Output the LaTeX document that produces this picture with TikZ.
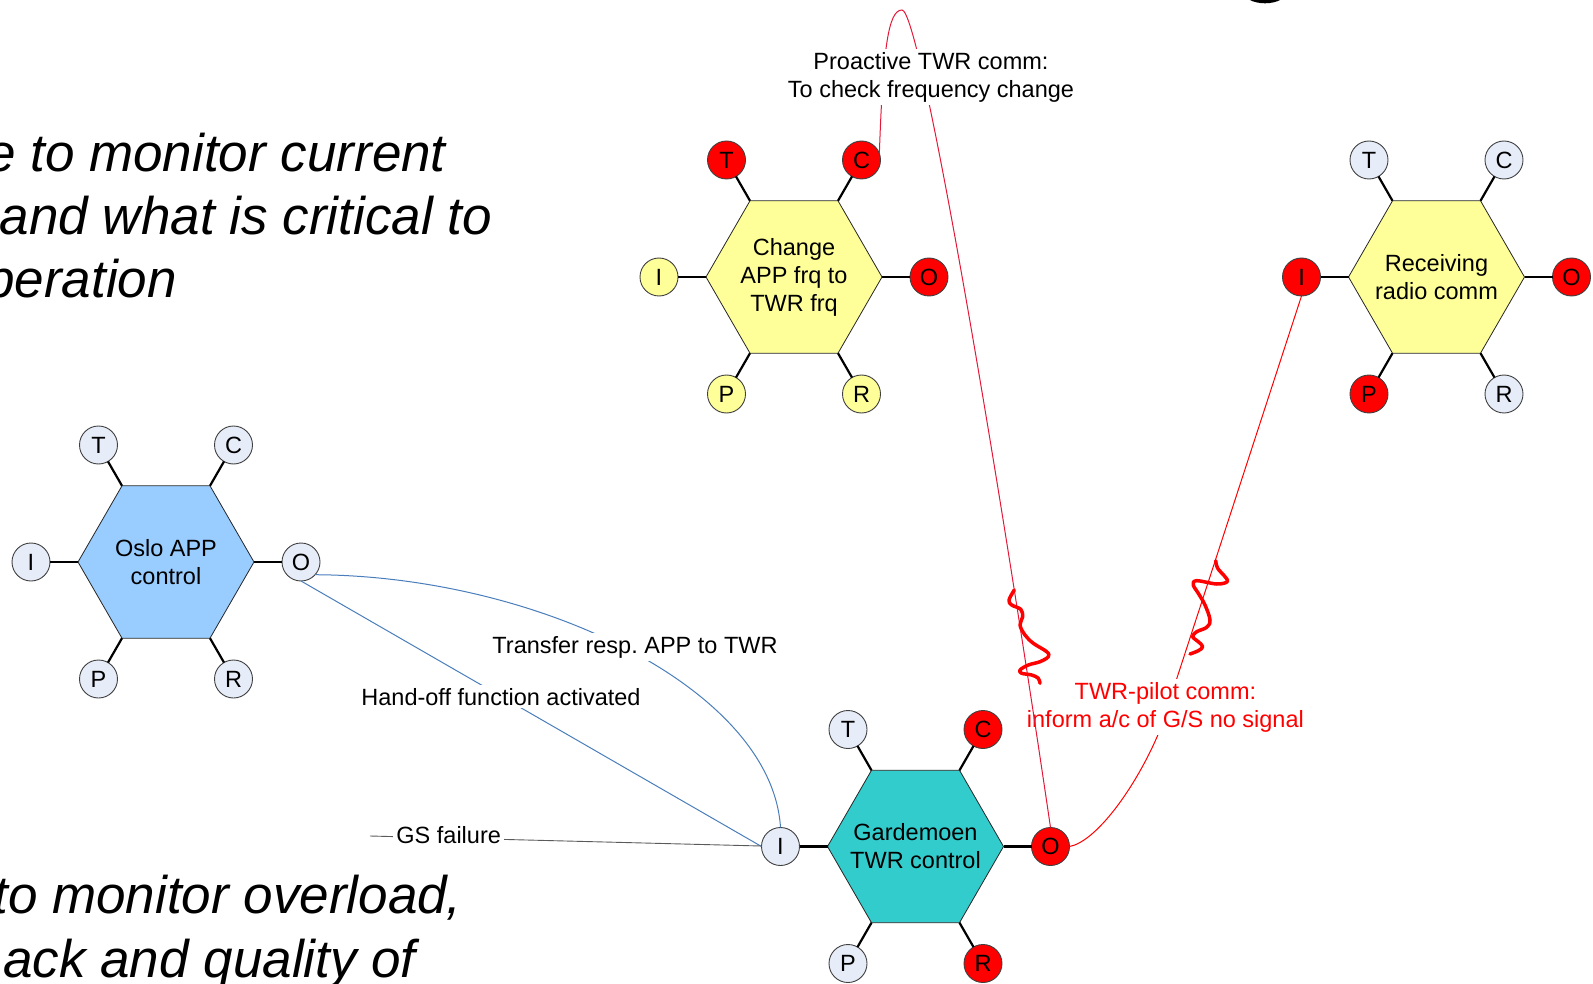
\documentclass[tikz,border=0pt]{standalone}
\usepackage{fontspec}
\setmainfont{Liberation Sans}
\usetikzlibrary{shapes.geometric,calc}

\definecolor{satfill}{RGB}{230,236,248}
\definecolor{hotred}{RGB}{255,0,0}
\definecolor{paleyellow}{RGB}{255,255,153}
\definecolor{appblue}{RGB}{153,204,255}
\definecolor{twrteal}{RGB}{51,204,204}
\definecolor{linkblue}{RGB}{74,126,187}
\definecolor{crimsonline}{RGB}{228,24,56}
\definecolor{gsgrey}{RGB}{90,90,90}

\begin{document}
\frenchspacing
\begin{tikzpicture}[x=1pt,y=-1pt,
  hexbox/.style={regular polygon, regular polygon sides=6, minimum size=176pt,
    inner sep=0pt, outer sep=0pt, draw=black!85, line width=0.8pt},
  hexlabel/.style={align=center, font=\fontsize{23.5}{28}\selectfont, inner sep=0pt},
  sat/.style={circle, minimum size=38pt, inner sep=0pt, outer sep=0pt,
    draw=black!75, line width=0.9pt, font=\fontsize{23.5}{28}\selectfont},
  spoke/.style={line width=2.2pt, black},
  lbl/.style={align=center, font=\fontsize{23.5}{28}\selectfont, fill=white, inner sep=3pt},
  bigtext/.style={font=\fontsize{53}{63}\selectfont\itshape, inner sep=0pt, anchor=base east},
  bluelink/.style={linkblue, line width=1pt},
  squiggle/.style={hotred, line width=3.5pt, line cap=round, line join=round}]

\useasboundingbox (0,0) rectangle (1593,984);
\clip (0,0) rectangle (1593,984);

% bottom of a large heading glyph cut by the top edge
\fill[black] (1265,-8.7) ellipse [x radius=22pt, y radius=12pt];

% running text on the left
\node[bigtext] (t1) at (446,172) {e to monitor current};
\node[bigtext] (t2) at (492,235) {and what is critical to};
\node[bigtext] (t3) at (177,298) {peration};
\node[bigtext] (t4) at (462,913) {to monitor overload,};
\node[bigtext] (t5) at (416,977) {ack and quality of};

% function hexagons
\node[hexbox, fill=appblue] (oslo) at (166,562) {};
\node[hexbox, fill=paleyellow] (chg) at (794,277) {};
\node[hexbox, fill=paleyellow] (rcv) at (1436.5,277) {};
\node[hexbox, fill=twrteal] (gdm) at (915.5,846.5) {};

\node[hexlabel] (oslo-txt) at (oslo.center) {Oslo APP\\control};
\node[hexlabel] (chg-txt) at (chg.center) {Change\\APP frq to\\TWR frq};
\node[hexlabel] (rcv-txt) at (rcv.center) {Receiving\\radio comm};
\node[hexlabel] (gdm-txt) at (gdm.center) {Gardemoen\\TWR control};

% aspect circles T, C, I, O, P, R around each hexagon
\foreach \h/\cT/\cC/\cI/\cO/\cP/\cR in {
    oslo/satfill/satfill/satfill/satfill/satfill/satfill,
    chg/hotred/hotred/paleyellow/hotred/paleyellow/paleyellow,
    rcv/satfill/satfill/hotred/hotred/hotred/satfill,
    gdm/satfill/hotred/satfill/hotred/satfill/hotred}{
  \foreach \s/\dx/\dy/\a/\c in {T/-67.5/-117/120/\cT, C/67.5/-117/60/\cC,
      I/-135/0/180/\cI, O/135/0/0/\cO, P/-67.5/117/240/\cP, R/67.5/117/300/\cR}{
    \node[sat, fill=\c] (\h-\s) at ([shift={(\dx,\dy)}]\h.center) {\s};
    \draw[spoke] (\h-\s) -- (\h.\a);
  }
}

% couplings from Oslo APP to Gardemoen TWR
\draw[bluelink] (oslo-O.-42) .. controls (540,576) and (772,690) .. (gdm-I.north);
\draw[bluelink] (oslo-O.south) -- (gdm-I.west);

% GS failure input
\coordinate (gs-end) at (370,836);
\draw[gsgrey, line width=0.9pt] (gs-end) -- (gdm-I);

% TWR-pilot radio link
\coordinate (bend) at (1160,730);
\draw[hotred, line width=1pt] (gdm-O.east) .. controls (1095,842) and (1135,790) .. (bend) -- (rcv-I.south);

\node[lbl] (xfer) at (635,653.3) [anchor=base] {Transfer resp. APP to TWR};
\node[lbl] (handoff) at (501,705) [anchor=base] {Hand-off function activated};
\node[lbl] (gsfail) at (448.7,843.5) [anchor=base] {GS failure};
\node[lbl, text=hotred] (pilot) at (1165.4,707) {TWR-pilot comm:\\inform a/c of G/S no signal};

% proactive check from Gardemoen TWR back to the frequency change
\coordinate (peak) at (902,10);
\draw[crimsonline, line width=1pt] (chg-C.20) .. controls (883,50) and (888,10) .. (peak)
  .. controls (920,10) and (995,450) .. (gdm-O.north);

\node[lbl] (proactive) at (931,77) {Proactive TWR comm:\\To check frequency change};

% noise marks on the radio links
\draw[squiggle] plot[smooth, tension=0.6] coordinates {(1014.3,590) (1009,600) (1011.7,605) (1020.7,609.3)
  (1022.7,616.7) (1020,625) (1025,635) (1033.3,643.3) (1046.7,651.7) (1048.3,656.7)
  (1040,661.7) (1028.3,665) (1020,670) (1021.7,673.3) (1031.7,675) (1038.3,678.3) (1040,683.3)};
\draw[squiggle] plot[smooth, tension=0.6] coordinates {(1215.7,560.7) (1217.7,568.3) (1225,576.7)
  (1227.3,581.7) (1216.7,584) (1196.7,580.7) (1193.3,585) (1198.3,593.3) (1205,605)
  (1210,620) (1206.7,627.3) (1196.7,631.7) (1192.7,636.7) (1198.3,641.7) (1202.7,646.7)
  (1198.3,650.7) (1190,654)};

\end{tikzpicture}
\end{document}
